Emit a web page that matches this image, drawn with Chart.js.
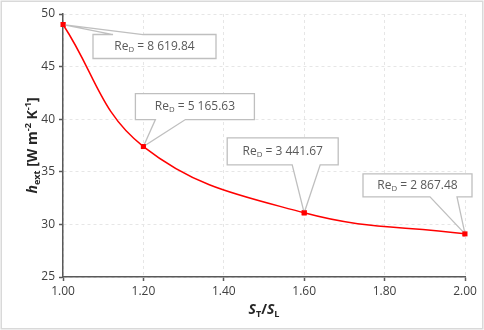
<!DOCTYPE html>
<html>
<head>
<meta charset="utf-8">
<script src="https://cdn.jsdelivr.net/npm/chart.js@4.4.1/dist/chart.umd.min.js"></script>
<style>
    html, body { margin: 0; padding: 0; background: #fff; }
    canvas { display: block; }
</style>
</head>
<body>
<canvas id="chart" width="484" height="330"></canvas>
<script>
// S_T / S_L ratio, heat transfer coefficient, Reynolds number per point
const RATIOS = [1.0, 1.2, 1.6, 2.0];
const H_EXT = [49.0, 37.4, 31.1, 29.1];
const RE_LABELS = ['8 619.84', '5 165.63', '3 441.67', '2 867.48'];

const FONT = '"Open Sans", "Liberation Sans", sans-serif';

// callout boxes, offsets in px relative to the point they point at
const CALLOUTS = [
    { dx: 30, dy: 10, w: 123, h: 24, side: 'top', wedge: [50, 80] },
    { dx: -8, dy: -53, w: 119, h: 26, side: 'bottom', wedge: [12, 42] },
    { dx: -77, dy: -75, w: 111, h: 27, side: 'bottom', wedge: [-12, 16] },
    { dx: -102, dy: -60, w: 109, h: 23, side: 'bottom', wedge: [-35, -8] }
];

function drawRich(ctx, parts, x, y, size) {
    const widths = parts.map(p => {
        ctx.font = `${p.style || ''} ${p.sub || p.sup ? size * 0.65 : size}px ${FONT}`;
        return ctx.measureText(p.t).width;
    });
    let cx = x - widths.reduce((a, b) => a + b, 0) / 2;
    parts.forEach((p, i) => {
        ctx.font = `${p.style || ''} ${p.sub || p.sup ? size * 0.65 : size}px ${FONT}`;
        const oy = p.sub ? size * 0.28 : p.sup ? -size * 0.35 : 0;
        ctx.fillText(p.t, cx, y + oy);
        cx += widths[i];
    });
}

const decorPlugin = {
    id: 'decor',
    beforeDraw(chart) {
        const ctx = chart.ctx;
        ctx.save();
        ctx.fillStyle = '#fff';
        ctx.fillRect(0, 0, chart.width, chart.height);
        ctx.strokeStyle = '#d9d9d9';
        ctx.lineWidth = 1.5;
        ctx.strokeRect(1.25, 1.25, chart.width - 2.5, chart.height - 2.5);
        ctx.restore();
    },
    afterDraw(chart) {
        const ctx = chart.ctx;
        const area = chart.chartArea;
        const meta = chart.getDatasetMeta(0);

        ctx.save();
        ctx.textBaseline = 'middle';
        ctx.textAlign = 'left';

        meta.data.forEach((pt, i) => {
            const c = CALLOUTS[i];
            const px = pt.x, py = pt.y;
            const L = px + c.dx, T = py + c.dy, R = L + c.w, B = T + c.h;
            const w1 = px + c.wedge[0], w2 = px + c.wedge[1];

            ctx.beginPath();
            if (c.side === 'top') {
                ctx.moveTo(L, T);
                ctx.lineTo(w1, T);
                ctx.lineTo(px, py);
                ctx.lineTo(w2, T);
                ctx.lineTo(R, T);
                ctx.lineTo(R, B);
                ctx.lineTo(L, B);
            } else {
                ctx.moveTo(L, T);
                ctx.lineTo(R, T);
                ctx.lineTo(R, B);
                ctx.lineTo(w2, B);
                ctx.lineTo(px, py);
                ctx.lineTo(w1, B);
                ctx.lineTo(L, B);
            }
            ctx.closePath();
            ctx.fillStyle = '#fff';
            ctx.fill();
            ctx.strokeStyle = '#bfbfbf';
            ctx.lineWidth = 1.3;
            ctx.stroke();

            ctx.fillStyle = '#595959';
            drawRich(ctx, [
                { t: 'Re' },
                { t: 'D', sub: true },
                { t: ' = ' + RE_LABELS[i] }
            ], (L + R) / 2, (T + B) / 2, 12);
        });

        // redraw markers on top of the callout wedges
        meta.data.forEach(pt => {
            ctx.fillStyle = '#ff0000';
            ctx.fillRect(pt.x - 2.5, pt.y - 2.5, 5, 5);
        });

        // axis titles
        ctx.fillStyle = '#262626';
        drawRich(ctx, [
            { t: 'S', style: 'italic bold' },
            { t: 'T', style: 'bold', sub: true },
            { t: '/', style: 'bold' },
            { t: 'S', style: 'italic bold' },
            { t: 'L', style: 'bold', sub: true }
        ], (area.left + area.right) / 2, 310, 14);

        ctx.translate(33, (area.top + area.bottom) / 2);
        ctx.rotate(-Math.PI / 2);
        drawRich(ctx, [
            { t: 'h', style: 'italic bold' },
            { t: 'ext', style: 'bold', sub: true },
            { t: ' [W m', style: 'bold' },
            { t: '-2', style: 'bold', sup: true },
            { t: ' K', style: 'bold' },
            { t: '-1', style: 'bold', sup: true },
            { t: ']', style: 'bold' }
        ], 0, 0, 14);
        ctx.restore();
    }
};

const axisCommon = {
    border: { color: '#595959', width: 1.5, dash: [3, 3] },
    grid: {
        color: '#e6e6e6',
        lineWidth: 1,
        tickColor: '#595959',
        tickLength: 4,
        tickBorderDash: [],
        tickWidth: 1.5
    },
    ticks: { color: '#404040', font: { family: FONT, size: 12 } }
};

new Chart(document.getElementById('chart'), {
    type: 'scatter',
    data: {
        datasets: [{
            data: RATIOS.map((x, i) => ({ x, y: H_EXT[i] })),
            showLine: true,
            borderColor: '#ff0000',
            borderWidth: 1.5,
            tension: 0.4,
            pointStyle: 'rect',
            pointRadius: 3.5,
            pointBackgroundColor: '#ff0000',
            pointBorderColor: '#ff0000',
            pointBorderWidth: 0
        }]
    },
    options: {
        responsive: false,
        animation: false,
        layout: { padding: { top: 14, right: 19, bottom: 0, left: 0 } },
        plugins: {
            legend: { display: false },
            tooltip: { enabled: false }
        },
        scales: {
            x: {
                ...axisCommon,
                type: 'linear',
                min: 1,
                max: 2,
                ticks: { ...axisCommon.ticks, stepSize: 0.2, padding: 3, callback: v => v.toFixed(2) },
                afterFit: s => { s.height = 53; }
            },
            y: {
                ...axisCommon,
                min: 25,
                max: 50,
                ticks: { ...axisCommon.ticks, stepSize: 5, padding: 4 },
                afterFit: s => { s.width = 63; }
            }
        }
    },
    plugins: [decorPlugin]
});
</script>
</body>
</html>
